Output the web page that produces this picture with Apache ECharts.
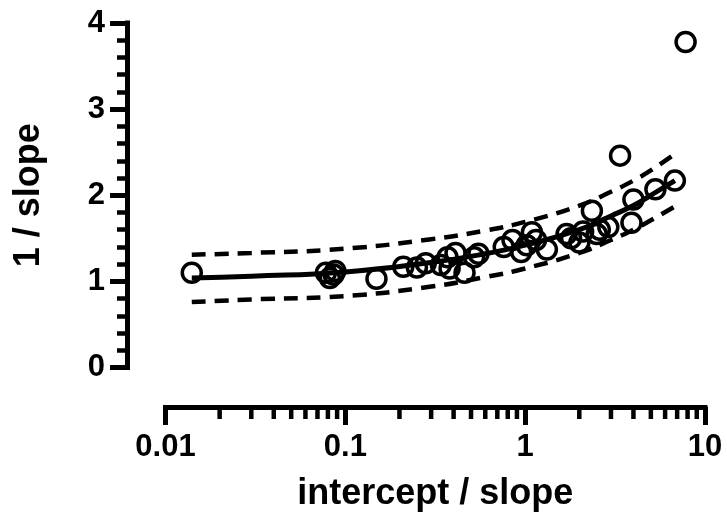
<!DOCTYPE html>
<html>
<head>
<meta charset="utf-8">
<script src="https://cdn.jsdelivr.net/npm/echarts@6/dist/echarts.min.js"></script>
<style>
html,body{margin:0;padding:0;background:#fff;}
#chart{width:727px;height:517px;}
</style>
</head>
<body>
<div id="chart"></div>
<script>
// Data points: intercept/slope (x) vs 1/slope (y)
const pointX = [0.014, 0.078, 0.082, 0.086, 0.088, 0.149, 0.21, 0.25, 0.28, 0.34, 0.37, 0.38, 0.41, 0.46, 0.52, 0.55, 0.76, 0.85, 0.95, 1.02, 1.09, 1.15, 1.32, 1.7, 1.8, 2.0, 2.1, 2.35, 2.5, 2.6, 2.9, 3.37, 3.9, 4.0, 5.3, 6.8, 7.8];
const pointY = [1.10, 1.10, 1.04, 1.08, 1.12, 1.03, 1.17, 1.16, 1.21, 1.19, 1.28, 1.15, 1.33, 1.10, 1.28, 1.32, 1.40, 1.48, 1.34, 1.42, 1.57, 1.48, 1.37, 1.55, 1.50, 1.45, 1.58, 1.82, 1.55, 1.60, 1.63, 2.46, 1.68, 1.95, 2.07, 2.17, 3.78];
// Fit curve and prediction band
const fitX   = [0.014, 0.03, 0.1, 0.3, 0.6, 1, 2, 3, 4, 5, 6.8];
const fitY   = [1.04, 1.06, 1.11, 1.22, 1.32, 1.42, 1.60, 1.76, 1.88, 2.00, 2.17];
const upperY = [1.31, 1.33, 1.38, 1.49, 1.59, 1.69, 1.88, 2.04, 2.17, 2.29, 2.48];
const lowerY = [0.76, 0.79, 0.83, 0.94, 1.05, 1.15, 1.33, 1.48, 1.60, 1.71, 1.87];
// Axis settings
const xTickLabels = ['0.01', '0.1', '1', '10'];
const xMin = 0.01, xMax = 10;
const yMin = 0, yMax = 4, yInterval = 1;
const xTitle = 'intercept / slope';
const yTitle = '1 / slope';

const zip = (a, b) => a.map((v, i) => [v, b[i]]);
const FONT = '"Liberation Sans", Arial, Helvetica, sans-serif';
const X_OFFSET = 39.5;

const chart = echarts.init(document.getElementById('chart'), null, {renderer: 'canvas'});
chart.setOption({
  animation: false,
  backgroundColor: '#ffffff',
  grid: {left: 165.5, right: 22, top: 23, bottom: 147, containLabel: false},
  xAxis: {
    type: 'log', logBase: 10, min: xMin, max: xMax, offset: X_OFFSET,
    name: xTitle, nameLocation: 'middle', nameGap: 69,
    nameTextStyle: {fontFamily: FONT, fontWeight: 'bold', fontSize: 36, color: '#000'},
    axisLine: {show: true, onZero: false, lineStyle: {color: '#000', width: 5, cap: 'square'}},
    axisTick: {show: true, length: 18, lineStyle: {color: '#000', width: 5}},
    minorTick: {show: false},
    splitLine: {show: false},
    axisLabel: {
      margin: 25, fontFamily: FONT, fontWeight: 'bold', fontSize: 31, color: '#000',
      formatter: v => { const i = Math.round(Math.log10(v)) + 2; return xTickLabels[i] !== undefined ? xTickLabels[i] : ''; }
    }
  },
  yAxis: {
    type: 'value', min: yMin, max: yMax, interval: yInterval, offset: 38.5,
    name: yTitle, nameLocation: 'middle', nameGap: 80, nameRotate: 90,
    nameTextStyle: {fontFamily: FONT, fontWeight: 'bold', fontSize: 36, color: '#000'},
    axisLine: {show: true, onZero: false, lineStyle: {color: '#000', width: 5, cap: 'square'}},
    axisTick: {show: true, length: 17, lineStyle: {color: '#000', width: 5}},
    minorTick: {show: true, splitNumber: 5, length: 10, lineStyle: {color: '#000', width: 4.5}},
    splitLine: {show: false},
    axisLabel: {margin: 22, fontFamily: FONT, fontWeight: 'bold', fontSize: 31, color: '#000'}
  },
  series: [
    {type: 'line', data: zip(fitX, upperY), showSymbol: false, smooth: true, z: 2,
     lineStyle: {color: '#000', width: 4.5, type: [14, 9], opacity: 1}},
    {type: 'line', data: zip(fitX, lowerY), showSymbol: false, smooth: true, z: 2,
     lineStyle: {color: '#000', width: 4.5, type: [14, 9], opacity: 1}},
    {type: 'line', data: zip(fitX, fitY), showSymbol: false, smooth: true, z: 3,
     lineStyle: {color: '#000', width: 5, opacity: 1}},
    {type: 'scatter', data: zip(pointX, pointY), symbol: 'circle', symbolSize: 19, z: 4,
     itemStyle: {color: 'rgba(0,0,0,0)', borderColor: '#000', borderWidth: 3.5, opacity: 1}}
  ]
});

// Log-axis minor ticks at 2..9 of each decade, placed through the axis scale
const minorVals = [];
for (let d = -2; d < 1; d++) for (let k = 2; k <= 9; k++) minorVals.push(k * Math.pow(10, d));
const axisY = chart.convertToPixel({gridIndex: 0}, [1, yMin])[1] + X_OFFSET;
const minorGraphics = minorVals.map(v => {
  const px = chart.convertToPixel({xAxisIndex: 0}, v);
  return {type: 'line', shape: {x1: px, y1: axisY, x2: px, y2: axisY + 12}, style: {stroke: '#000', lineWidth: 4.5}, silent: true};
});
chart.setOption({graphic: minorGraphics});
</script>
</body>
</html>
